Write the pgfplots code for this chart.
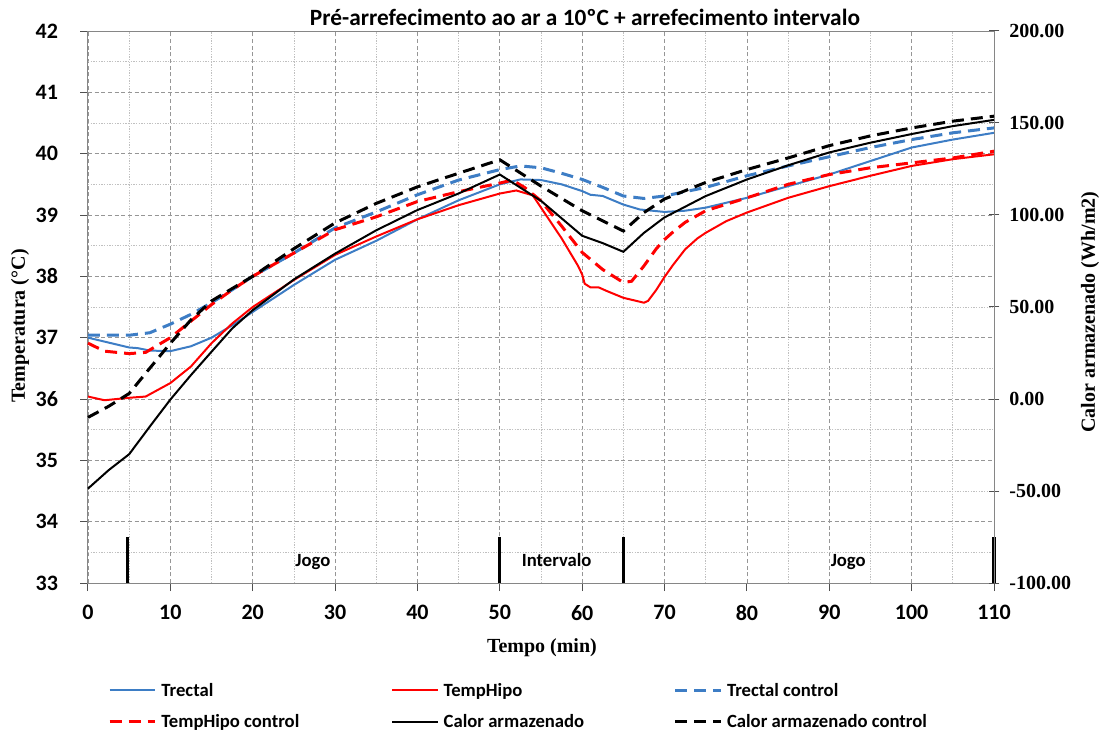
\documentclass[border=0pt]{standalone}
\usepackage{pgfplots}
\usepackage{pgfplotstable}
\pgfplotsset{compat=1.18}
\usepackage{fontspec}
\setmainfont{Liberation Serif}
\newfontfamily\carlito{Carlito}
\definecolor{tblue}{RGB}{61,125,197}
\definecolor{tred}{RGB}{255,0,0}
\definecolor{framegray}{RGB}{134,134,134}
\definecolor{gridgray}{RGB}{150,150,150}

\pgfplotstableread{
x y
0 37.00
2.5 36.92
5 36.84
6 36.83
7.5 36.79
10 36.78
12.5 36.86
15 37.00
17.5 37.20
20 37.42
25 37.86
30 38.27
35 38.58
40 38.93
45 39.24
50 39.50
52.5 39.58
55 39.57
57.5 39.50
60 39.39
61 39.33
62.5 39.31
65 39.17
67 39.09
70 39.05
72.5 39.07
75 39.12
80 39.28
85 39.47
90 39.66
95 39.88
100 40.10
105 40.23
110 40.34
}\trectal

\pgfplotstableread{
x y
0 36.04
2 35.98
5 36.02
7 36.04
10 36.26
12.5 36.53
15 36.91
17.5 37.23
20 37.50
25 37.94
30 38.35
35 38.65
40 38.93
45 39.16
50 39.35
52 39.40
54 39.32
55 39.12
57.5 38.62
59.5 38.17
60 38.03
60.3 37.88
61 37.82
62 37.82
63 37.76
65 37.65
67.5 37.57
68 37.60
69 37.78
70 37.99
71 38.18
72.5 38.44
74 38.62
75 38.71
77.5 38.90
80 39.04
85 39.28
90 39.47
95 39.64
100 39.80
105 39.91
110 39.99
}\temphipo

\pgfplotstableread{
x y
0 37.04
2.5 37.04
5 37.04
7.5 37.08
10 37.22
12.5 37.38
15 37.57
17.5 37.78
20 38.00
25 38.38
30 38.79
35 39.05
40 39.33
45 39.57
50 39.74
52.5 39.80
55 39.77
57.5 39.68
60 39.58
62.5 39.45
65 39.31
67.5 39.27
70 39.31
75 39.45
80 39.64
85 39.80
90 39.95
95 40.10
100 40.23
105 40.34
110 40.42
}\trectalc

\pgfplotstableread{
x y
0 36.91
2 36.78
5 36.74
7 36.76
10 37.00
12.5 37.27
15 37.54
17.5 37.78
20 38.00
25 38.38
30 38.76
35 38.97
40 39.22
45 39.38
50 39.52
51.5 39.57
53 39.45
55 39.23
57.5 38.82
60 38.39
62.5 38.11
65 37.90
66 37.92
67.5 38.17
69 38.45
70 38.60
71 38.72
72.5 38.88
75 39.07
80 39.28
85 39.50
90 39.66
95 39.77
100 39.85
105 39.93
110 40.04
}\temphipoc

\pgfplotstableread{
x y
0 -48.7
2.5 -38.7
5 -30.0
7.5 -15.0
10 -0.3
12.5 13.0
15 25.7
17.5 38.3
20 48.3
25 65.0
30 79.0
35 91.7
40 102.7
45 111.7
50 122.0
55 107.7
60 88.7
62.5 84.7
65 80.0
67.5 90.3
70 98.7
75 110.3
80 119.3
85 127.0
90 134.0
95 139.3
100 144.0
105 148.3
110 151.7
}\calor

\pgfplotstableread{
x y
0 -10.0
2.5 -4.0
5 3.0
7.5 16.7
10 30.3
12.5 43.0
15 53.3
17.5 60.0
20 66.7
25 81.7
30 95.7
35 106.3
40 115.3
45 122.7
50 130.0
55 115.7
60 102.3
65 91.3
67.5 101.3
70 108.7
75 117.7
80 124.7
85 131.0
90 137.7
95 143.0
100 147.3
105 151.0
110 153.7
}\calorc

\begin{document}
\begin{tikzpicture}
\begin{axis}[
  scale only axis, width=679.5pt, height=414pt,
  xmin=0, xmax=110, ymin=33, ymax=42,
  xtick={0,10,...,110}, ytick={33,34,...,42},
  minor x tick num=1, minor y tick num=1,
  grid=both,
  major grid style={draw=gridgray, dash pattern=on 3pt off 2pt, line width=0.5pt},
  minor grid style={draw=gridgray!60, dash pattern=on 1pt off 1pt, line width=0.5pt},
  axis line style={draw=framegray, line width=0.75pt},
  tick style={draw=framegray!60!black, line width=0.75pt},
  major tick length=6pt, minor tick length=0pt,
  tick align=outside,
  xtick pos=bottom, ytick pos=left,
  ticklabel style={font=\carlito\bfseries\fontsize{16.5}{18}\selectfont},
  xticklabel style={yshift=-7pt},
  yticklabel style={xshift=-13pt},
  /pgf/number format/assume math mode=true,
  clip=false,
  title={Pré-arrefecimento ao ar a 10ºC + arrefecimento intervalo},
  title style={at={(axis description cs:0.5486,1)}, anchor=base, yshift=-1.5pt, font=\carlito\bfseries\fontsize{17.5}{19}\selectfont},
  xlabel={Tempo (min)},
  xlabel style={at={(axis description cs:0.501,-0.118)}, anchor=center, font=\bfseries\fontsize{15}{17}\selectfont},
  ylabel={Temperatura (°C)},
  ylabel style={at={(axis description cs:-0.0751,0.4656)}, anchor=center, font=\bfseries\fontsize{15}{17}\selectfont},
  legend columns=3,
  legend cell align=left,
  legend style={at={(axis description cs:0.0221,-0.181)}, anchor=north west, draw=none, fill=none,
    inner sep=0pt, outer sep=0pt, row sep=12pt,
    font=\carlito\bfseries\fontsize{14}{15}\selectfont,
    nodes={inner sep=0pt},
    /tikz/every odd column/.append style={column sep=3.75pt},
    /tikz/every even column/.append style={column sep=0pt}},
  legend image code/.code={\draw[#1] (0pt,0pt) -- (34pt,0pt);},
]
\addplot[tblue, line width=1.5pt] table[x=x,y=y] {\trectal};
\addlegendentry{\makebox[172.5pt][l]{Trectal}}
\addplot[tred, line width=1.5pt] table[x=x,y=y] {\temphipo};
\addlegendentry{\makebox[172.5pt][l]{TempHipo}}
\addplot[tblue, line width=2.25pt, dash pattern=on 9pt off 5.25pt] table[x=x,y=y] {\trectalc};
\addlegendentry{\makebox[172.5pt][l]{Trectal control}}
\addplot[tred, line width=2.25pt, dash pattern=on 9pt off 5.25pt] table[x=x,y=y] {\temphipoc};
\addlegendentry{\makebox[172.5pt][l]{TempHipo control}}
\addlegendimage{black, line width=1.5pt}
\addlegendentry{\makebox[172.5pt][l]{Calor armazenado}}
\addlegendimage{black, line width=2.25pt, dash pattern=on 9pt off 5.25pt}
\addlegendentry{\makebox[172.5pt][l]{Calor armazenado control}}
% phase markers
\addplot[black, line width=2.5pt, forget plot] coordinates {(4.8,33) (4.8,33.75)};
\addplot[black, line width=2.5pt, forget plot] coordinates {(50,33) (50,33.75)};
\addplot[black, line width=2.5pt, forget plot] coordinates {(65,33) (65,33.75)};
\addplot[black, line width=2.5pt, forget plot] coordinates {(110,33) (110,33.75)};
\node[font=\carlito\bfseries\fontsize{14}{15}\selectfont] at (axis cs:27.3,33.34) {Jogo};
\node[font=\carlito\bfseries\fontsize{14}{15}\selectfont] at (axis cs:56.9,33.37) {Intervalo};
\node[font=\carlito\bfseries\fontsize{14}{15}\selectfont] at (axis cs:92.3,33.34) {Jogo};
\end{axis}
\begin{axis}[
  scale only axis, width=679.5pt, height=414pt,
  xmin=0, xmax=110, ymin=-100, ymax=200,
  axis x line=none, axis y line*=right,
  ytick={-100,-50,...,200},
  axis line style={draw=framegray, line width=0.75pt},
  tick style={draw=framegray!60!black, line width=0.75pt},
  tick align=center, major tick length=8pt,
  yticklabel style={font=\bfseries\fontsize{15}{16}\selectfont, xshift=4pt,
    /pgf/number format/.cd, fixed, fixed zerofill, precision=2, assume math mode=true},
  ylabel={Calor armazenado (Wh/m2)},
  ylabel style={at={(axis description cs:1.106,0.491)}, anchor=center, rotate=0, font=\bfseries\fontsize{15}{17}\selectfont},
  clip=false,
]
\addplot[black, line width=1.5pt] table[x=x,y=y] {\calor};
\addplot[black, line width=2.25pt, dash pattern=on 9pt off 5.25pt] table[x=x,y=y] {\calorc};
\end{axis}
\pgfresetboundingbox
\path[use as bounding box] (-66pt,-114pt) rectangle (762.75pt,437.25pt);
\end{tikzpicture}
\end{document}
